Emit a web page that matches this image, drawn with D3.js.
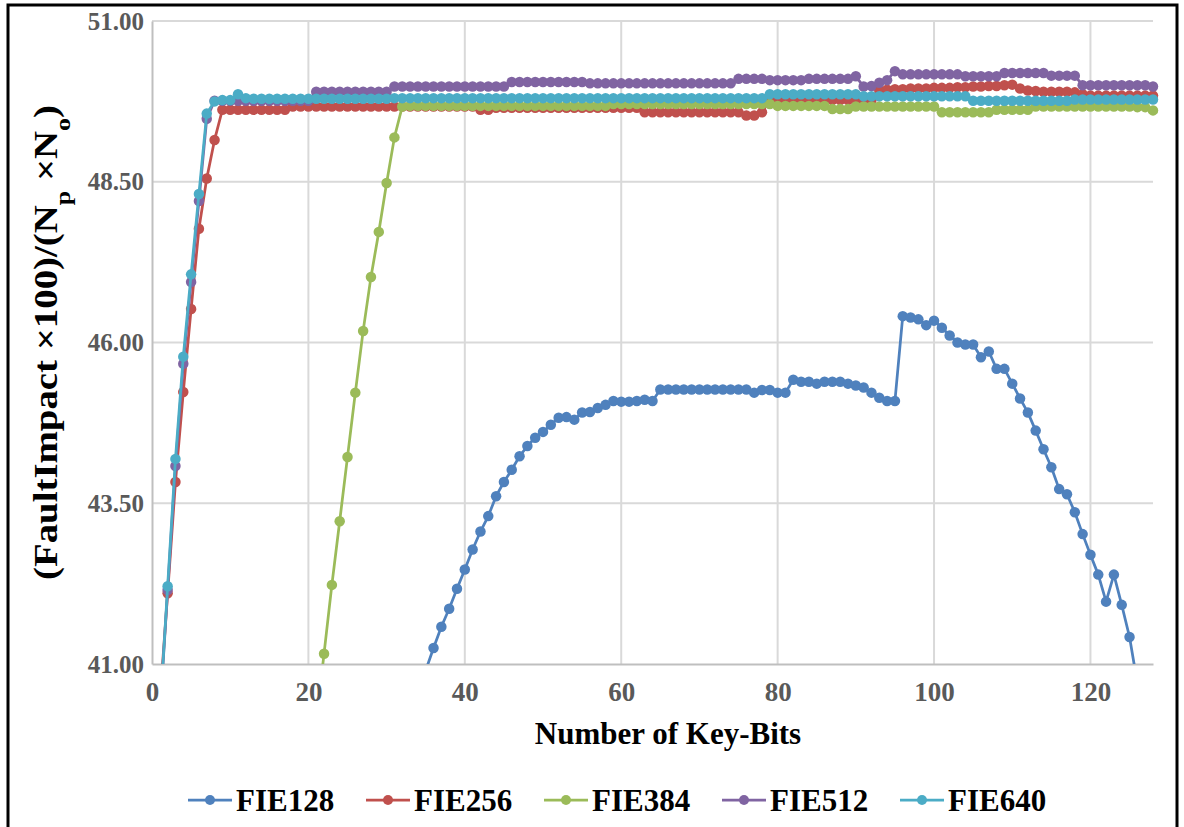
<!DOCTYPE html>
<html>
<head>
<meta charset="utf-8">
<script src="https://cdn.jsdelivr.net/npm/d3@7"></script>
<style>
  body { margin: 0; background: #fff; }
  text { font-family: "Liberation Serif", "Times New Roman", serif; font-weight: bold; }
</style>
</head>
<body>
<div id="chart"></div>
<script>
// ---- data ----
var seriesNames  = ["FIE128", "FIE256", "FIE384", "FIE512", "FIE640"];
var seriesColors = ["#4F81BD", "#C0504D", "#9BBB59", "#8064A2", "#4BACC6"];
var xTicks = [0, 20, 40, 60, 80, 100, 120];
var yTicks = [41, 43.5, 46, 48.5, 51];

// first key-bit of each series
var seriesStart = [35, 1, 21, 1, 1];

var fie128 = [40.9, 41.25, 41.58, 41.86, 42.17, 42.47, 42.78, 43.06, 43.30, 43.61,
  43.83, 44.02, 44.23, 44.39, 44.52, 44.61, 44.72, 44.83, 44.84, 44.80,
  44.91, 44.92, 44.98, 45.03, 45.09, 45.08, 45.08, 45.09, 45.11, 45.09,
  45.27, 45.27, 45.27, 45.27, 45.27, 45.27, 45.27, 45.27, 45.27, 45.27, 45.27, 45.27,
  45.22, 45.26, 45.26, 45.22, 45.22,
  45.42, 45.39, 45.39, 45.36, 45.39, 45.39, 45.39, 45.36, 45.33, 45.30, 45.22, 45.14, 45.09, 45.09,
  46.41, 46.39, 46.36, 46.27, 46.34, 46.23, 46.11, 46.00, 45.97, 45.97,
  45.77, 45.86, 45.59, 45.59, 45.36, 45.13, 44.91, 44.63, 44.34, 44.06,
  43.72, 43.64, 43.36, 43.02, 42.70, 42.39, 41.97, 42.39, 41.92, 41.42,
  40.7, 40.0, 39.3];

var fie256 = [40.4, 42.1, 43.83, 45.23, 46.52, 47.77, 48.55, 49.15,
  49.62, 49.62, 49.62, 49.62, 49.62, 49.62, 49.62, 49.62, 49.62,
  49.67, 49.67, 49.67, 49.67, 49.67, 49.67, 49.67, 49.67, 49.67, 49.67, 49.67, 49.67,
  49.67, 49.67, 49.67, 49.67, 49.67, 49.67, 49.67, 49.67, 49.67, 49.67, 49.67, 49.67,
  49.62, 49.62,
  49.65, 49.65, 49.65, 49.65, 49.65, 49.65, 49.65, 49.65, 49.65, 49.65,
  49.65, 49.65, 49.65, 49.65, 49.65, 49.65, 49.65, 49.65, 49.65,
  49.58, 49.58, 49.58, 49.58, 49.58, 49.58, 49.58, 49.58, 49.58, 49.58, 49.58, 49.58, 49.58,
  49.53, 49.53, 49.58,
  49.77, 49.77, 49.77, 49.77, 49.77, 49.77, 49.77, 49.77, 49.77, 49.77, 49.77, 49.77, 49.77, 49.77,
  49.92, 49.93, 49.94, 49.94, 49.95, 49.95, 49.95, 49.96, 49.96, 49.96,
  49.97, 49.97, 49.98, 49.98, 49.99, 49.99, 50.00, 50.01, 49.95, 49.92,
  49.91, 49.90, 49.90, 49.90, 49.90, 49.89, 49.86, 49.84, 49.84, 49.84,
  49.84, 49.84, 49.84, 49.84, 49.84, 49.84];

var fie384 = [40.1, 41.16, 42.23, 43.22, 44.22, 45.22, 46.18, 47.02, 47.72, 48.48, 49.19, 49.67,
  49.68, 49.68, 49.68, 49.68, 49.68, 49.68, 49.68, 49.68, 49.68, 49.68, 49.68, 49.68, 49.68,
  49.68, 49.68, 49.68, 49.68, 49.68, 49.68, 49.68, 49.68, 49.68, 49.68, 49.68, 49.68, 49.68,
  49.71, 49.71, 49.71, 49.71, 49.71, 49.71, 49.71, 49.71, 49.71, 49.71, 49.71,
  49.71, 49.71, 49.71, 49.71, 49.71, 49.71, 49.71, 49.71, 49.71, 49.71,
  49.68, 49.68, 49.68, 49.68, 49.68, 49.68, 49.68,
  49.63, 49.63, 49.63,
  49.67, 49.67, 49.67, 49.67, 49.67, 49.67, 49.67, 49.67, 49.67, 49.67, 49.67,
  49.58, 49.58, 49.58, 49.58, 49.58, 49.58, 49.58,
  49.62, 49.62, 49.62, 49.62, 49.62,
  49.67, 49.67, 49.67, 49.67, 49.67, 49.67, 49.67, 49.67, 49.67, 49.67, 49.67, 49.67, 49.67,
  49.66, 49.66, 49.61];

var fie512 = [40.2, 42.15, 44.08, 45.67, 46.94, 48.2, 49.48,
  49.76, 49.76, 49.76, 49.76, 49.76, 49.76, 49.76, 49.76, 49.76, 49.76, 49.76, 49.76, 49.76,
  49.90, 49.90, 49.90, 49.90, 49.90, 49.90, 49.90, 49.90, 49.90, 49.90,
  49.98, 49.98, 49.98, 49.98, 49.98, 49.98, 49.98, 49.98, 49.98, 49.98, 49.98, 49.98, 49.98, 49.98, 49.98,
  50.05, 50.05, 50.05, 50.05, 50.05, 50.05, 50.05, 50.05, 50.05, 50.05,
  50.03, 50.03, 50.03, 50.03, 50.03, 50.03, 50.03, 50.03, 50.03, 50.03,
  50.03, 50.03, 50.03, 50.03, 50.03, 50.03, 50.03, 50.03, 50.03,
  50.10, 50.10, 50.10, 50.10,
  50.08, 50.08, 50.08, 50.08, 50.08,
  50.10, 50.10, 50.10, 50.10, 50.10, 50.10,
  50.14, 49.98, 49.99, 50.04, 50.08,
  50.22,
  50.17, 50.17, 50.17, 50.17, 50.17, 50.17, 50.17, 50.17,
  50.14, 50.14, 50.14, 50.14, 50.14,
  50.19, 50.19, 50.19, 50.19, 50.19, 50.19,
  50.15, 50.15, 50.15, 50.15,
  50.00, 50.00, 50.00, 50.00, 50.00, 50.00, 50.00, 50.00, 50.00,
  49.98];

var fie640 = [40.2, 42.21, 44.19, 45.78, 47.06, 48.31, 49.56, 49.75, 49.77, 49.77, 49.86, 49.80,
  49.79, 49.79, 49.79, 49.79, 49.79, 49.79, 49.79, 49.79, 49.79,
  49.79, 49.79, 49.79, 49.79, 49.79, 49.79, 49.79, 49.79, 49.79,
  49.80, 49.80, 49.80, 49.80, 49.80, 49.80, 49.80, 49.80, 49.80, 49.80, 49.80, 49.80,
  49.80, 49.80, 49.80, 49.80, 49.80, 49.80, 49.80, 49.80, 49.80, 49.80, 49.80, 49.80,
  49.80, 49.80, 49.80, 49.80, 49.80, 49.80, 49.80, 49.80, 49.80, 49.80, 49.80, 49.80,
  49.80, 49.80, 49.80, 49.80, 49.80, 49.80, 49.80, 49.80, 49.80, 49.80, 49.80, 49.80,
  49.86, 49.86, 49.86, 49.86, 49.86, 49.86, 49.86, 49.86, 49.86, 49.86, 49.86, 49.86,
  49.83, 49.83, 49.83, 49.83, 49.83, 49.83, 49.83, 49.83, 49.83, 49.83, 49.83, 49.83, 49.83, 49.83,
  49.76, 49.76, 49.76, 49.76, 49.76, 49.76, 49.76, 49.76, 49.76, 49.76, 49.76, 49.76, 49.76,
  49.78, 49.78, 49.78, 49.78, 49.78, 49.78, 49.78, 49.78, 49.78, 49.78, 49.78];

var seriesValues = [fie128, fie256, fie384, fie512, fie640];

// ---- layout ----
var width = 1184, height = 827;
var margin = {top: 21, right: 31, bottom: 163, left: 152};
var pw = width - margin.left - margin.right,
    ph = height - margin.top - margin.bottom;

var svg = d3.select("#chart")
  .append("svg")
  .attr("width", width)
  .attr("height", height);

// outer frame
svg.append("rect")
  .attr("x", 8).attr("y", 5)
  .attr("width", 1169).attr("height", 840)
  .attr("fill", "none")
  .attr("stroke", "#000")
  .attr("stroke-width", 3);

var g = svg.append("g")
  .attr("transform", "translate(" + margin.left + "," + margin.top + ")");

var x = d3.scaleLinear().domain([0, 128]).range([0, pw]);
var y = d3.scaleLinear().domain([41, 51]).range([ph, 0]);

// gridlines
g.append("g")
  .selectAll("line.v")
  .data(xTicks.slice(1))
  .enter().append("line")
  .attr("x1", function(d) { return x(d); })
  .attr("x2", function(d) { return x(d); })
  .attr("y1", 0).attr("y2", ph)
  .attr("stroke", "#d9d9d9").attr("stroke-width", 2);

g.append("g")
  .selectAll("line.h")
  .data(yTicks.slice(1))
  .enter().append("line")
  .attr("x1", 0).attr("x2", pw)
  .attr("y1", function(d) { return y(d); })
  .attr("y2", function(d) { return y(d); })
  .attr("stroke", "#d9d9d9").attr("stroke-width", 2);

// axes
var xAxis = g.append("g")
  .attr("transform", "translate(0," + ph + ")")
  .call(d3.axisBottom(x).tickValues(xTicks).tickSize(0).tickPadding(18).tickFormat(d3.format("d")));
xAxis.select(".domain").attr("stroke", "#bfbfbf").attr("stroke-width", 2);
xAxis.selectAll(".tick text").style("font-size", "27px");

var yAxis = g.append("g")
  .call(d3.axisLeft(y).tickValues(yTicks).tickSize(0).tickPadding(8).tickFormat(d3.format(".2f")));
yAxis.select(".domain").attr("stroke", "#bfbfbf").attr("stroke-width", 2);
yAxis.selectAll(".tick text").style("font-size", "25px");

g.selectAll(".tick text")
  .style("font-family", "'Liberation Serif', 'Times New Roman', serif")
  .style("font-weight", "bold")
  .attr("fill", "#595959");

// series
svg.append("defs").append("clipPath").attr("id", "plot-clip")
  .append("rect").attr("x", 0).attr("y", -10).attr("width", pw + 8).attr("height", ph + 10);

var line = d3.line()
  .x(function(d) { return x(d[0]); })
  .y(function(d) { return y(d[1]); });

var plot = g.append("g").attr("clip-path", "url(#plot-clip)");

seriesValues.forEach(function(vals, i) {
  var pts = vals.map(function(v, j) { return [seriesStart[i] + j, v]; });
  var sg = plot.append("g").attr("class", "series");
  sg.append("path")
    .datum(pts)
    .attr("d", line)
    .attr("fill", "none")
    .attr("stroke", seriesColors[i])
    .attr("stroke-width", 2.75)
    .attr("stroke-linejoin", "round");
  sg.selectAll("circle")
    .data(pts)
    .enter().append("circle")
    .attr("cx", function(d) { return x(d[0]); })
    .attr("cy", function(d) { return y(d[1]); })
    .attr("r", 5.25)
    .attr("fill", seriesColors[i]);
});

// axis titles
svg.append("text")
  .attr("x", 668).attr("y", 744)
  .attr("text-anchor", "middle")
  .style("font-size", "31px")
  .attr("fill", "#000")
  .text("Number of Key-Bits");

var yt = svg.append("text")
  .attr("transform", "translate(57," + (margin.top + ph / 2) + ") rotate(-90)")
  .attr("text-anchor", "middle")
  .attr("textLength", 475)
  .attr("lengthAdjust", "spacingAndGlyphs")
  .style("font-size", "33px")
  .attr("fill", "#000");
yt.append("tspan").text("(FaultImpact \u00d7100)/(N");
yt.append("tspan").attr("baseline-shift", "sub").style("font-size", "22px").text("p");
yt.append("tspan").text(" \u00d7N");
yt.append("tspan").attr("baseline-shift", "sub").style("font-size", "22px").text("o");
yt.append("tspan").text(")");

// legend
var legend = svg.append("g");
seriesNames.forEach(function(name, i) {
  var lx = 188 + i * 178, ly = 800;
  legend.append("line")
    .attr("x1", lx).attr("x2", lx + 44)
    .attr("y1", ly).attr("y2", ly)
    .attr("stroke", seriesColors[i]).attr("stroke-width", 2.75);
  legend.append("circle")
    .attr("cx", lx + 22).attr("cy", ly).attr("r", 5)
    .attr("fill", seriesColors[i]);
  legend.append("text")
    .attr("x", lx + 48).attr("y", ly + 11)
    .style("font-size", "31px")
    .attr("fill", "#000")
    .text(name);
});
</script>
</body>
</html>
